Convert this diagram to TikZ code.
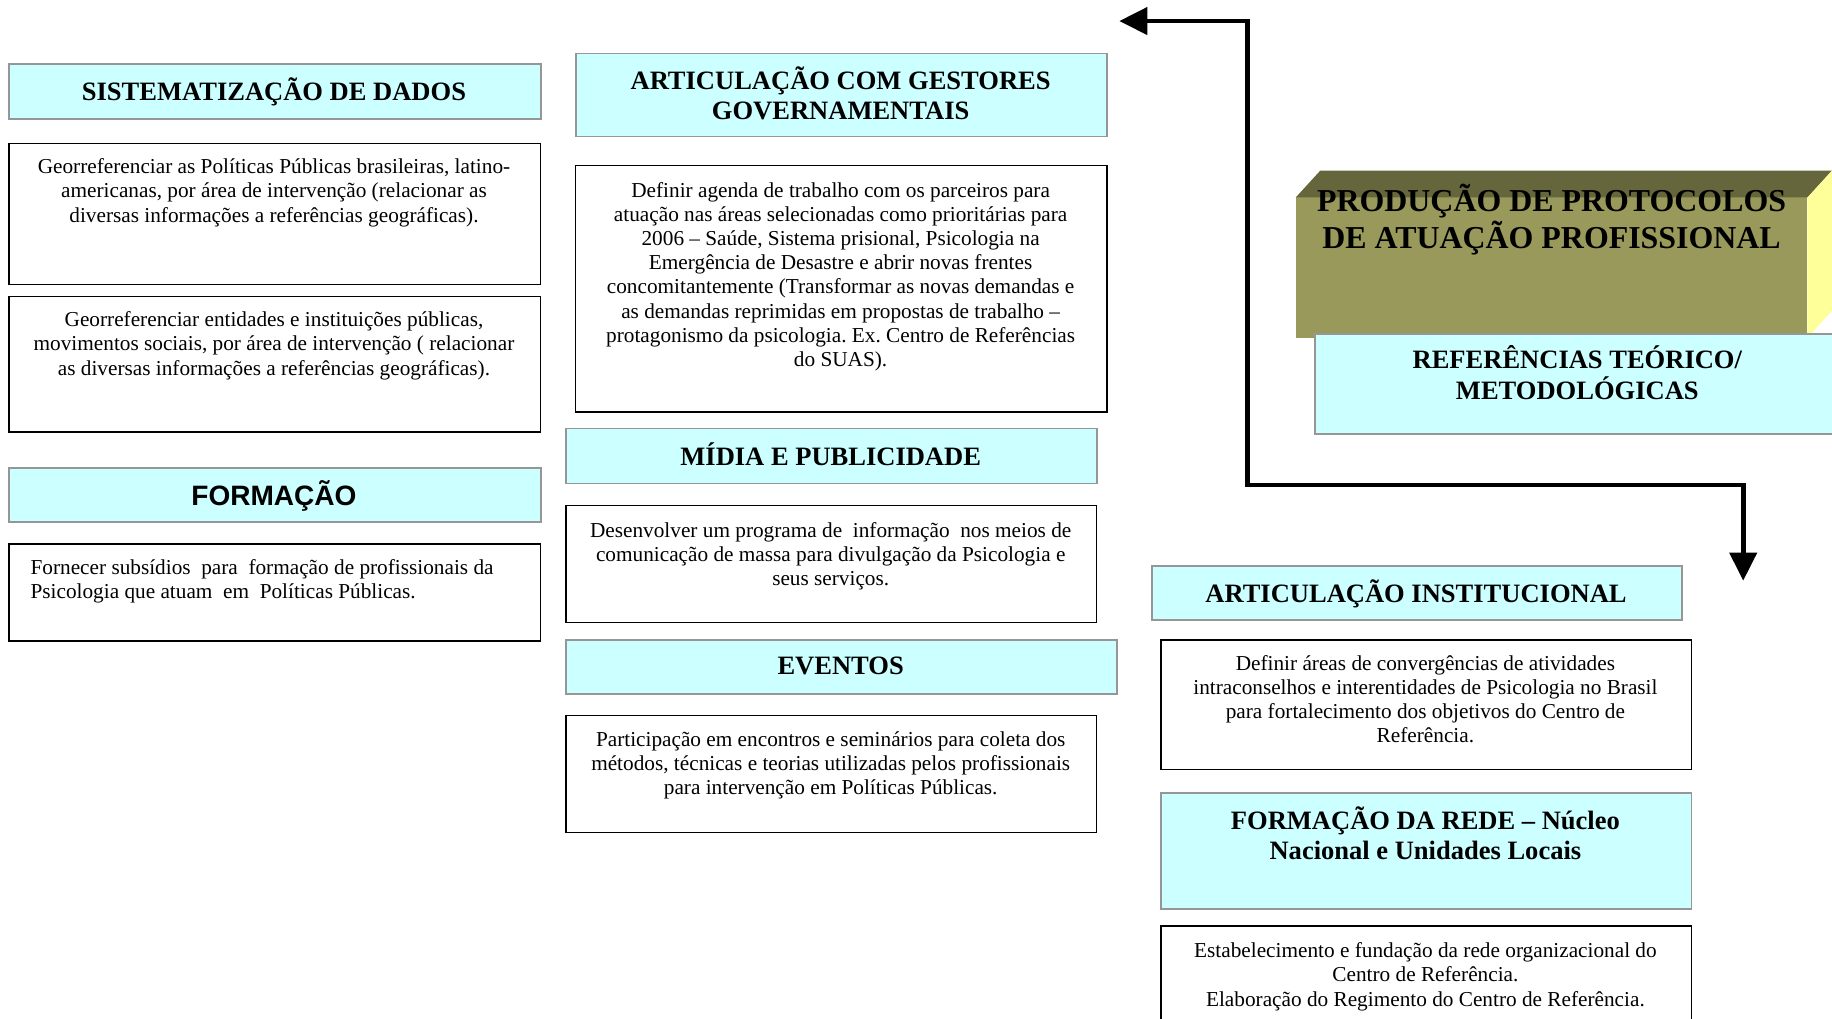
\documentclass[tikz,border=0pt]{standalone}
\usepackage{fontspec}
\setmainfont{Liberation Serif}
\setsansfont{Liberation Sans}
\usetikzlibrary{arrows.meta}
\definecolor{hdrfill}{RGB}{204,255,255}
\definecolor{hdrline}{RGB}{150,150,150}
\definecolor{olivefront}{RGB}{153,153,92}
\definecolor{olivetop}{RGB}{102,102,60}
\definecolor{sideyellow}{RGB}{255,255,153}
\newcommand\tstrut{\rule{0pt}{0.95em}}
\frenchspacing
\begin{document}
\begin{tikzpicture}[x=1pt,y=-1pt,
  hdrbox/.style={draw=hdrline, fill=hdrfill, line width=1.5pt, inner sep=0pt, anchor=north west},
  txtbox/.style={draw=black, line width=1.2pt, fill=white, inner sep=0pt, anchor=north west},
  bodytxt/.style={font=\fontsize{18.2}{20.7}\selectfont\frenchspacing, align=center, inner sep=0pt, anchor=north, yshift=-1pt},
  hdrtxt/.style={font=\fontsize{22.7}{26}\selectfont\bfseries, align=center, inner sep=0pt, anchor=north, yshift=-1pt},
  bigtxt/.style={font=\fontsize{27.3}{31.2}\selectfont\bfseries, align=center, inner sep=0pt, anchor=north, yshift=-1pt},
  sanshdr/.style={font=\fontsize{24}{27}\selectfont\sffamily\bfseries, align=center, inner sep=0pt, anchor=north, yshift=-1pt},
  linkarrow/.style={line width=4pt, line join=miter,
    {Triangle[length=24pt,width=23pt]}-{Triangle[length=24pt,width=23pt]}}
]
\useasboundingbox (0,0) rectangle (1568,872);
\clip (0,0) rectangle (1568,872);

% ---------- left column ----------
\node[hdrbox, minimum width=455pt, minimum height=47pt] (h1) at (7,54) {};
\node[hdrtxt] (h1t) at (234.5,62.9) {\tstrut SISTEMATIZAÇÃO DE DADOS};

\node[txtbox, minimum width=455pt, minimum height=121pt] (b1) at (7,122) {};
\node[bodytxt] (b1t) at (234.5,130.2) {\tstrut Georreferenciar as Políticas Públicas brasileiras, latino-\\
americanas, por área de intervenção (relacionar as\\
diversas informações a referências geográficas).};

\node[txtbox, minimum width=455pt, minimum height=116pt] (b2) at (7,253) {};
\node[bodytxt] (b2t) at (234.5,261.2) {\tstrut Georreferenciar entidades e instituições públicas,\\
movimentos sociais, por área de intervenção ( relacionar\\
as diversas informações a referências geográficas).};

\node[hdrbox, minimum width=455pt, minimum height=46pt] (h2) at (7,400) {};
\node[sanshdr] (h2t) at (234.5,408.8) {\tstrut FORMAÇÃO};

\node[txtbox, minimum width=455pt, minimum height=83pt] (b3) at (7,465) {};
\node[bodytxt, align=left, anchor=north west] (b3t) at (26,473.2) {\tstrut Fornecer subsídios~ para~ formação de profissionais da\\
Psicologia que atuam~ em~ Políticas Públicas.};

% ---------- middle column ----------
\node[hdrbox, minimum width=455pt, minimum height=71pt] (h3) at (492,45) {};
\node[hdrtxt] (h3t) at (719.5,53.9) {\tstrut ARTICULAÇÃO COM GESTORES\\ GOVERNAMENTAIS};

\node[txtbox, minimum width=455pt, minimum height=211pt] (b4) at (492,141) {};
\node[bodytxt] (b4t) at (719.5,150.2) {\tstrut Definir agenda de trabalho com os parceiros para\\
atuação nas áreas selecionadas como prioritárias para\\
2006 – Saúde, Sistema prisional, Psicologia na\\
Emergência de Desastre e abrir novas frentes\\
concomitantemente (Transformar as novas demandas e\\
as demandas reprimidas em propostas de trabalho –\\
protagonismo da psicologia. Ex. Centro de Referências\\
do SUAS).};

\node[hdrbox, minimum width=454pt, minimum height=47pt] (h4) at (484,366) {};
\node[hdrtxt] (h4t) at (711,375.9) {\tstrut MÍDIA E PUBLICIDADE};

\node[txtbox, minimum width=454pt, minimum height=100pt] (b5) at (484,432) {};
\node[bodytxt] (b5t) at (711,441.2) {\tstrut Desenvolver um programa de~ informação~ nos meios de\\
comunicação de massa para divulgação da Psicologia e\\
seus serviços.};

\node[hdrbox, minimum width=471pt, minimum height=46pt] (h5) at (484,547) {};
\node[hdrtxt] (h5t) at (719.5,554.9) {\tstrut EVENTOS};

\node[txtbox, minimum width=454pt, minimum height=100pt] (b6) at (484,612) {};
\node[bodytxt] (b6t) at (711,620.2) {\tstrut Participação em encontros e seminários para coleta dos\\
métodos, técnicas e teorias utilizadas pelos profissionais\\
para intervenção em Políticas Públicas.};

% ---------- right column ----------
\fill[olivefront] (1109,169) rectangle (1547,289);
\fill[olivetop] (1109,169) -- (1130,146) -- (1568,146) -- (1547,169) -- cycle;
\fill[sideyellow] (1547,169) -- (1568,146) -- (1568,266) -- (1547,289) -- cycle;
\node[bigtxt] (pt) at (1328,154) {\tstrut PRODUÇÃO DE PROTOCOLOS\\ DE ATUAÇÃO PROFISSIONAL};

\node[hdrbox, minimum width=455pt, minimum height=86pt] (h8) at (1125,285) {};
\node[hdrtxt] (h8t) at (1350,292.9) {\tstrut REFERÊNCIAS TEÓRICO/\\ METODOLÓGICAS};

\node[hdrbox, minimum width=454pt, minimum height=46pt] (h6) at (985,484) {};
\node[hdrtxt] (h6t) at (1212,492.9) {\tstrut ARTICULAÇÃO INSTITUCIONAL};

\node[txtbox, minimum width=454pt, minimum height=111pt] (b7) at (993,547) {};
\node[bodytxt] (b7t) at (1220,555.2) {\tstrut Definir áreas de convergências de atividades\\
intraconselhos e interentidades de Psicologia no Brasil\\
para fortalecimento dos objetivos do Centro de\\
Referência.};

\node[hdrbox, minimum width=454pt, minimum height=99pt] (h7) at (993,678) {};
\node[hdrtxt] (h7t) at (1220,686.9) {\tstrut FORMAÇÃO DA REDE – Núcleo\\ Nacional e Unidades Locais};

\node[txtbox, minimum width=454pt, minimum height=110pt] (b8) at (993,792) {};
\node[bodytxt] (b8t) at (1220,801.2) {\tstrut Estabelecimento e fundação da rede organizacional do\\
Centro de Referência.\\
Elaboração do Regimento do Centro de Referência.};

% ---------- connector ----------
\coordinate (tipL) at (958,18);
\coordinate (c1) at (1068,18);
\coordinate (c2) at (1068,415);
\coordinate (c3) at (1492,415);
\coordinate (tipD) at (1492,497);
\draw[linkarrow] (tipL) -- (c1) -- (c2) -- (c3) -- (tipD);
\end{tikzpicture}
\end{document}
